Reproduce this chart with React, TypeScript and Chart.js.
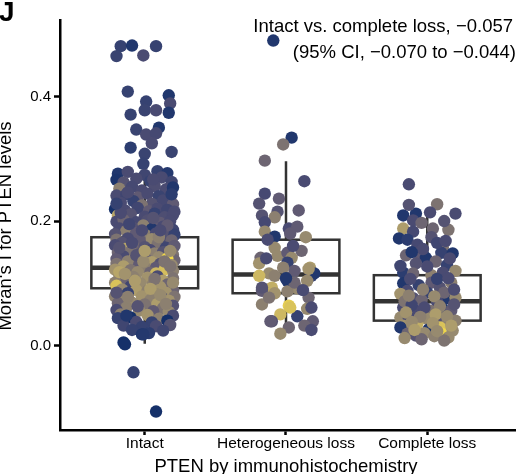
import React, { useEffect, useRef } from "react";
import { Chart, registerables } from "chart.js";

Chart.register(...registerables);

// ---------- data ----------
const categories = ["Intact", "Heterogeneous loss", "Complete loss"];
const yTickValues = [0, 0.2, 0.4];

const boxQ1 = [0.092, 0.084, 0.04];
const boxMedian = [0.125, 0.114, 0.071];
const boxQ3 = [0.174, 0.17, 0.113];
const whiskerLow = [0.003, 0.024, 0.013];
const whiskerHigh = [0.285, 0.296, 0.212];

const annotationLines = [
  "Intact vs. complete loss, \u22120.057",
  "(95% CI, \u22120.070 to \u22120.044)",
];
const yTitle = "Moran's I for PTEN levels";
const xTitle = "PTEN by immunohistochemistry";
const panelLabel = "J";

// [jitter offset (category units), Moran's I value, colour score 0..1]
const intactPoints: [number, number, number][] = [
  [-0.17, 0.481, 0.2], [-0.09, 0.482, 0.1], [0.08, 0.481, 0.2], [-0.2, 0.465, 0.22], [-0.01, 0.466, 0.3],
  [-0.12, 0.408, 0.2], [0.17, 0.402, 0.1], [0.01, 0.392, 0.2], [0.18, 0.389, 0.3], [-0.1, 0.371, 0.2],
  [0.0, 0.378, 0.22], [0.08, 0.378, 0.3], [0.17, 0.374, 0.1], [-0.06, 0.347, 0.22], [0.1, 0.35, 0.1],
  [0.01, 0.339, 0.3], [0.08, 0.341, 0.28], [0.05, 0.325, 0.3], [-0.1, 0.318, 0.15], [0.0, 0.308, 0.22],
  [0.19, 0.311, 0.22], [-0.01, 0.292, 0.2],
  [-0.19, 0.276, 0.1], [-0.12, 0.279, 0.3], [0.0, 0.274, 0.25], [0.09, 0.28, 0.2], [0.16, 0.277, 0.12],
  [-0.2, 0.266, 0.08], [-0.15, 0.262, 0.35], [-0.06, 0.268, 0.3], [0.04, 0.264, 0.2], [0.12, 0.27, 0.3], [0.19, 0.263, 0.25],
  [-0.18, 0.252, 0.55], [-0.09, 0.255, 0.28], [-0.02, 0.249, 0.3], [0.07, 0.256, 0.32], [0.15, 0.251, 0.3], [0.2, 0.254, 0.1],
  [-0.2, 0.241, 0.3], [-0.13, 0.243, 0.25], [-0.05, 0.238, 0.4], [0.02, 0.244, 0.3], [0.1, 0.24, 0.22], [0.18, 0.237, 0.35],
  [-0.17, 0.229, 0.3], [-0.08, 0.232, 0.2], [0.05, 0.228, 0.35], [0.13, 0.233, 0.28], [0.2, 0.227, 0.4], [-0.02, 0.225, 0.5],
  [-0.21, 0.219, 0.05], [-0.14, 0.217, 0.3], [-0.05, 0.221, 0.25], [0.03, 0.216, 0.4], [0.09, 0.22, 0.3], [0.16, 0.218, 0.25], [0.21, 0.215, 0.3],
  [-0.19, 0.209, 0.75], [-0.1, 0.211, 0.35], [0.0, 0.207, 0.3], [0.07, 0.212, 0.2], [0.14, 0.206, 0.32], [0.2, 0.21, 0.3],
  [-0.2, 0.199, 0.3], [-0.15, 0.202, 0.45], [-0.06, 0.198, 0.28], [0.02, 0.201, 0.33], [0.11, 0.197, 0.4], [0.18, 0.2, 0.3], [-0.01, 0.193, 0.55],
  [-0.18, 0.188, 0.3], [-0.09, 0.19, 0.35], [0.05, 0.187, 0.1], [0.13, 0.191, 0.3], [0.2, 0.186, 0.25], [-0.13, 0.184, 0.55],
  [-0.21, 0.179, 0.35], [-0.06, 0.181, 0.4], [0.01, 0.177, 0.55], [0.08, 0.18, 0.3], [0.16, 0.176, 0.35], [0.21, 0.178, 0.2],
  [-0.2, 0.17, 0.5], [-0.12, 0.172, 0.3], [-0.03, 0.168, 0.4], [0.05, 0.171, 0.6], [0.12, 0.167, 0.3], [0.19, 0.169, 0.45], [-0.16, 0.165, 0.35],
  [-0.21, 0.161, 0.3], [-0.08, 0.16, 0.45], [0.0, 0.158, 0.35], [0.09, 0.162, 0.5], [0.15, 0.157, 0.25], [0.21, 0.16, 0.4], [-0.14, 0.155, 0.75], [0.04, 0.153, 0.3],
  [-0.19, 0.149, 0.45], [-0.1, 0.151, 0.5], [-0.03, 0.147, 0.3], [0.07, 0.148, 0.55], [0.13, 0.15, 0.35], [0.2, 0.146, 0.5], [-0.15, 0.143, 0.3], [0.1, 0.142, 0.6],
  [-0.2, 0.139, 0.4], [-0.07, 0.141, 0.65], [0.01, 0.138, 0.45], [0.17, 0.139, 0.3], [0.21, 0.137, 0.45], [-0.12, 0.135, 0.55], [0.05, 0.134, 0.7],
  [0.16, 0.14, 1.0],
  [-0.2, 0.131, 0.5], [-0.04, 0.13, 0.4], [0.11, 0.131, 0.35], [0.19, 0.129, 0.6], [-0.15, 0.127, 0.7], [0.0, 0.126, 0.55], [0.08, 0.125, 0.4],
  [-0.21, 0.122, 0.65], [-0.1, 0.121, 0.5], [0.14, 0.122, 0.88], [0.2, 0.12, 0.55], [-0.05, 0.118, 0.6], [0.04, 0.117, 0.45], [0.08, 0.116, 0.85],
  [-0.18, 0.112, 0.6], [-0.08, 0.11, 0.55], [0.02, 0.109, 0.65], [0.09, 0.111, 0.3], [0.2, 0.108, 0.5], [-0.13, 0.105, 0.45], [0.13, 0.104, 0.7],
  [-0.21, 0.101, 0.55], [-0.03, 0.1, 0.6], [0.06, 0.099, 0.55], [0.16, 0.098, 0.45], [-0.2, 0.096, 0.9], [-0.1, 0.095, 0.25], [0.11, 0.094, 0.65],
  [-0.16, 0.09, 0.6], [-0.06, 0.089, 0.7], [0.02, 0.088, 0.55], [0.2, 0.089, 0.45], [-0.12, 0.084, 0.2], [0.08, 0.083, 0.6], [0.15, 0.085, 0.65],
  [-0.21, 0.079, 0.55], [-0.02, 0.079, 0.65], [0.12, 0.077, 0.3], [0.21, 0.078, 0.5], [-0.16, 0.074, 0.6], [0.04, 0.073, 0.55], [0.17, 0.072, 0.65],
  [-0.19, 0.068, 0.45], [-0.09, 0.069, 0.6], [0.0, 0.066, 0.5], [0.09, 0.067, 0.7], [0.2, 0.064, 0.35], [-0.13, 0.061, 0.55], [0.13, 0.06, 0.5],
  [-0.2, 0.057, 0.3], [-0.04, 0.056, 0.6], [0.06, 0.055, 0.4], [0.17, 0.054, 0.6], [-0.17, 0.05, 0.55], [0.02, 0.049, 0.65], [0.2, 0.048, 0.3],
  [-0.19, 0.044, 0.2], [-0.1, 0.045, 0.05], [0.1, 0.043, 0.55], [0.16, 0.04, 0.05], [-0.06, 0.038, 0.3], [0.05, 0.037, 0.2],
  [-0.15, 0.032, 0.25], [-0.02, 0.03, 0.2], [0.08, 0.031, 0.3], [0.18, 0.033, 0.35], [-0.09, 0.025, 0.2], [0.13, 0.024, 0.25], [0.03, 0.02, 0.15],
  [-0.17, 0.213, 0.3], [0.06, 0.205, 0.35], [-0.11, 0.195, 0.25], [0.16, 0.193, 0.4], [-0.02, 0.185, 0.3], [0.1, 0.174, 0.55],
  [-0.18, 0.157, 0.35], [0.18, 0.152, 0.6], [-0.06, 0.145, 0.35], [0.14, 0.135, 0.5], [-0.18, 0.118, 0.75], [0.07, 0.107, 0.5],
  [-0.14, 0.115, 0.65], [0.18, 0.127, 0.5], [-0.01, 0.135, 0.6], [0.04, 0.091, 0.7], [-0.12, 0.078, 0.55], [0.11, 0.081, 0.6],
  [-0.05, 0.063, 0.35], [0.15, 0.067, 0.55], [-0.2, 0.085, 0.35], [0.2, 0.101, 0.6], [-0.07, 0.104, 0.7], [0.0, 0.152, 0.7],
  [-0.09, 0.165, 0.3], [0.11, 0.185, 0.3], [-0.2, 0.228, 0.2], [0.19, 0.243, 0.15], [-0.12, 0.246, 0.3], [0.06, 0.267, 0.3],
  [-0.13, 0.048, 0.1], [-0.02, 0.018, 0.1], [-0.15, 0.005, 0.05], [-0.14, 0.002, 0.05], [-0.01, 0.018, 0.12],
  [-0.08, -0.043, 0.2], [0.08, -0.106, 0.05],
];

const heteroPoints: [number, number, number][] = [
  [-0.09, 0.49, 0.1], [0.04, 0.334, 0.1], [-0.02, 0.323, 0.5], [-0.15, 0.297, 0.45], [0.13, 0.264, 0.3],
  [-0.15, 0.244, 0.28], [-0.05, 0.236, 0.4], [-0.19, 0.228, 0.35], [0.09, 0.217, 0.4], [-0.06, 0.215, 0.35],
  [-0.17, 0.209, 0.35], [-0.08, 0.206, 0.55], [-0.15, 0.198, 0.28], [0.02, 0.188, 0.3], [0.08, 0.191, 0.4],
  [-0.15, 0.183, 0.6], [-0.08, 0.175, 0.1], [0.03, 0.18, 0.4], [0.14, 0.174, 0.6], [-0.08, 0.157, 0.6],
  [-0.18, 0.141, 0.45], [-0.06, 0.144, 0.6], [0.01, 0.149, 0.4], [0.04, 0.141, 0.6], [-0.19, 0.132, 0.65],
  [0.01, 0.133, 0.2], [-0.12, 0.116, 0.6], [-0.08, 0.112, 0.55], [0.06, 0.12, 0.4], [0.17, 0.125, 0.7],
  [-0.19, 0.112, 0.85], [0.18, 0.112, 0.2], [0.2, 0.116, 0.1], [0.01, 0.104, 0.1], [0.15, 0.104, 0.6], [0.08, 0.092, 0.6],
  [-0.1, 0.093, 0.8], [-0.17, 0.088, 0.4], [-0.08, 0.084, 0.65], [0.01, 0.087, 0.55], [-0.17, 0.066, 0.55],
  [0.16, 0.077, 0.45], [0.02, 0.064, 0.95], [-0.04, 0.05, 0.85], [0.08, 0.047, 0.2], [0.15, 0.059, 0.6],
  [0.18, 0.061, 0.3], [-0.1, 0.039, 0.35], [0.19, 0.039, 0.4], [0.13, 0.032, 0.45], [0.02, 0.029, 0.45],
  [-0.04, 0.019, 0.6], [0.18, 0.025, 0.3], [-0.11, 0.039, 0.4], [0.16, 0.123, 0.65], [-0.17, 0.093, 0.35],
  [0.03, 0.061, 0.9], [-0.13, 0.17, 0.3], [0.11, 0.152, 0.45], [-0.02, 0.125, 0.55], [0.06, 0.101, 0.45],
  [-0.12, 0.077, 0.5], [0.12, 0.089, 0.3], [-0.14, 0.14, 0.3], [0.05, 0.16, 0.3], [0.0, 0.108, 0.1],
];

const completePoints: [number, number, number][] = [
  [-0.13, 0.259, 0.3], [0.07, 0.227, 0.5], [0.2, 0.212, 0.3], [-0.17, 0.209, 0.1], [-0.08, 0.212, 0.1],
  [-0.1, 0.201, 0.3], [-0.17, 0.188, 0.7], [0.04, 0.188, 0.45], [0.15, 0.186, 0.5], [-0.1, 0.183, 0.28],
  [-0.2, 0.172, 0.1], [-0.14, 0.17, 0.15], [0.03, 0.174, 0.35], [-0.07, 0.162, 0.28], [0.11, 0.157, 0.5],
  [-0.15, 0.145, 0.45], [-0.06, 0.148, 0.4], [-0.01, 0.141, 0.1], [0.1, 0.149, 0.2], [0.18, 0.148, 0.1],
  [-0.08, 0.132, 0.35], [0.06, 0.135, 0.45], [0.14, 0.129, 0.2], [0.11, 0.117, 0.3], [0.2, 0.12, 0.6],
  [-0.17, 0.117, 0.15], [-0.1, 0.116, 0.45], [0.03, 0.113, 0.55], [-0.17, 0.1, 0.1], [-0.06, 0.097, 0.2],
  [0.03, 0.101, 0.4], [0.09, 0.093, 0.35], [0.17, 0.101, 0.55], [-0.14, 0.088, 0.3], [0.0, 0.085, 0.2],
  [-0.19, 0.083, 0.65], [-0.1, 0.076, 0.35], [0.14, 0.076, 0.1], [0.2, 0.077, 0.6], [-0.04, 0.073, 0.45],
  [0.07, 0.07, 0.3], [-0.17, 0.061, 0.3], [-0.08, 0.056, 0.3], [0.02, 0.056, 0.5], [0.11, 0.059, 0.1],
  [0.17, 0.056, 0.4], [-0.19, 0.045, 0.6], [-0.13, 0.043, 0.3], [0.0, 0.043, 0.6], [0.1, 0.045, 0.35],
  [0.2, 0.04, 0.55], [-0.17, 0.032, 0.65], [-0.07, 0.035, 0.8], [0.01, 0.026, 0.1], [0.14, 0.035, 0.55],
  [-0.19, 0.029, 0.1], [-0.14, 0.019, 0.45], [-0.08, 0.016, 0.35], [0.09, 0.029, 0.9], [0.1, 0.019, 1.0],
  [0.18, 0.024, 0.6], [0.15, 0.013, 0.6],
  [-0.12, 0.107, 0.3], [0.07, 0.107, 0.2], [-0.03, 0.09, 0.55], [0.12, 0.085, 0.45], [-0.16, 0.071, 0.5],
  [0.05, 0.079, 0.6], [-0.11, 0.065, 0.25], [0.09, 0.063, 0.55], [0.19, 0.066, 0.35], [-0.02, 0.061, 0.3],
  [-0.15, 0.053, 0.65], [0.06, 0.05, 0.7], [0.14, 0.047, 0.6], [-0.05, 0.046, 0.55], [-0.11, 0.038, 0.6],
  [0.04, 0.036, 0.65], [0.17, 0.032, 0.7], [-0.02, 0.02, 0.6], [0.05, 0.015, 0.55], [-0.16, 0.012, 0.6],
  [0.12, 0.008, 0.5], [-0.04, 0.01, 0.45], [0.19, 0.09, 0.3], [-0.19, 0.128, 0.25], [0.0, 0.127, 0.3],
  [0.16, 0.14, 0.3], [-0.03, 0.155, 0.3], [0.07, 0.165, 0.25], [-0.11, 0.15, 0.1], [0.13, 0.168, 0.3],
  [-0.04, 0.197, 0.45], [0.12, 0.2, 0.35], [-0.13, 0.226, 0.35], [0.02, 0.214, 0.3], [-0.09, 0.025, 0.7],
  [0.07, 0.023, 0.6], [-0.13, 0.08, 0.55], [0.15, 0.108, 0.3],
];

const groups = [intactPoints, heteroPoints, completePoints];

// ---------- styling helpers ----------
const FONT = '"Liberation Sans", Arial, Helvetica, sans-serif';
const BOX_HALF = 0.378;

// colour ramp (navy -> blue-grey -> purple-grey -> tan -> khaki -> yellow)
const rampPos = [0, 0.15, 0.3, 0.42, 0.55, 0.7, 0.85, 1];
const rampHex = ["#0a2a66", "#2c3d70", "#4a4b72", "#645d73", "#8c8070", "#ad9d6c", "#cdb862", "#f0d84a"];

function hexToRgb(h: string) {
  const n = parseInt(h.slice(1), 16);
  return [(n >> 16) & 255, (n >> 8) & 255, n & 255];
}

function ramp(t: number) {
  const v = Math.max(0, Math.min(1, t));
  let i = 0;
  while (i < rampPos.length - 2 && v > rampPos[i + 1]) i++;
  const f = (v - rampPos[i]) / (rampPos[i + 1] - rampPos[i]);
  const a = hexToRgb(rampHex[i]);
  const b = hexToRgb(rampHex[i + 1]);
  const m = a.map((c, k) => Math.round(c + (b[k] - c) * f));
  return `rgb(${m[0]},${m[1]},${m[2]})`;
}

export default function App() {
  const ref = useRef<HTMLCanvasElement>(null);

  useEffect(() => {
    const canvas = ref.current;
    if (!canvas) return;

    const datasets = groups.map((pts, gi) => ({
      label: categories[gi],
      data: pts.map(([j, v]) => ({ x: gi + j, y: v })),
      backgroundColor: pts.map((p) => ramp(p[2])),
      borderWidth: 0,
      pointRadius: 6.2,
      pointHoverRadius: 6.2,
    }));

    const boxPlugin = {
      id: "boxes",
      beforeDatasetsDraw(chart: any) {
        const { ctx } = chart;
        const xs = chart.scales.x;
        const ys = chart.scales.y;
        ctx.save();
        ctx.strokeStyle = "#333333";
        for (let i = 0; i < categories.length; i++) {
          const cx = xs.getPixelForValue(i);
          const l = xs.getPixelForValue(i - BOX_HALF);
          const r = xs.getPixelForValue(i + BOX_HALF);
          const yq1 = ys.getPixelForValue(boxQ1[i]);
          const yq3 = ys.getPixelForValue(boxQ3[i]);
          const ym = ys.getPixelForValue(boxMedian[i]);
          const ylo = ys.getPixelForValue(whiskerLow[i]);
          const yhi = ys.getPixelForValue(whiskerHigh[i]);
          ctx.lineWidth = 2.5;
          ctx.beginPath();
          ctx.moveTo(cx, yq3);
          ctx.lineTo(cx, yhi);
          ctx.moveTo(cx, yq1);
          ctx.lineTo(cx, ylo);
          ctx.stroke();
          ctx.fillStyle = "#ffffff";
          ctx.fillRect(l, yq3, r - l, yq1 - yq3);
          ctx.strokeRect(l, yq3, r - l, yq1 - yq3);
          ctx.lineWidth = 4.5;
          ctx.beginPath();
          ctx.moveTo(l, ym);
          ctx.lineTo(r, ym);
          ctx.stroke();
        }
        ctx.restore();
      },
    };

    const textPlugin = {
      id: "texts",
      afterDraw(chart: any) {
        const { ctx } = chart;
        const xs = chart.scales.x;
        ctx.save();
        ctx.fillStyle = "#000000";
        ctx.textBaseline = "alphabetic";

        ctx.font = `bold 28px ${FONT}`;
        ctx.textAlign = "left";
        ctx.fillText(panelLabel, -1, 21);

        ctx.font = `18.5px ${FONT}`;
        ctx.textAlign = "right";
        ctx.fillText(annotationLines[0], 513, 32);
        ctx.fillText(annotationLines[1], 516, 58);

        ctx.textAlign = "center";
        ctx.fillText(xTitle, xs.getPixelForValue(1), 472);

        ctx.translate(11, 226);
        ctx.rotate(-Math.PI / 2);
        ctx.fillText(yTitle, 0, 0);
        ctx.restore();
      },
    };

    const chart = new Chart(canvas, {
      type: "scatter",
      data: { datasets } as any,
      options: {
        animation: false,
        responsive: false,
        events: [],
        layout: { padding: { top: 20, left: 0, right: 0, bottom: 0 } },
        plugins: { legend: { display: false }, tooltip: { enabled: false } },
        scales: {
          x: {
            type: "linear",
            min: -0.6,
            max: 2.627,
            afterBuildTicks: (s: any) => {
              s.ticks = categories.map((_, i) => ({ value: i }));
            },
            afterFit: (s: any) => {
              s.height = 44;
              s.paddingLeft = 0;
              s.paddingRight = 0;
            },
            ticks: {
              callback: (v: any) => categories[Math.round(Number(v))],
              font: { family: FONT, size: 15.5 },
              color: "#000000",
              padding: -1,
              maxRotation: 0,
              autoSkip: false,
            },
            grid: {
              drawOnChartArea: false,
              drawTicks: true,
              tickLength: 5,
              tickWidth: 2.5,
              tickColor: "#000000",
            },
            border: { display: true, color: "#000000", width: 2.5 },
          },
          y: {
            type: "linear",
            min: -0.1357,
            max: 0.523,
            afterBuildTicks: (s: any) => {
              s.ticks = yTickValues.map((v) => ({ value: v }));
            },
            afterFit: (s: any) => {
              s.width = 60;
              s.paddingTop = 0;
              s.paddingBottom = 0;
            },
            ticks: {
              callback: (v: any) => Number(v).toFixed(1),
              font: { family: FONT, size: 15 },
              color: "#000000",
              padding: 3,
            },
            grid: {
              drawOnChartArea: false,
              drawTicks: true,
              tickLength: 6,
              tickWidth: 2.5,
              tickColor: "#000000",
            },
            border: { display: true, color: "#000000", width: 2.5 },
          },
        },
      } as any,
      plugins: [boxPlugin, textPlugin],
    });

    return () => chart.destroy();
  }, []);

  return (
    <canvas
      ref={ref}
      width={522}
      height={474}
      style={{ position: "absolute", left: 0, top: 0, width: 522, height: 474 }}
    />
  );
}
